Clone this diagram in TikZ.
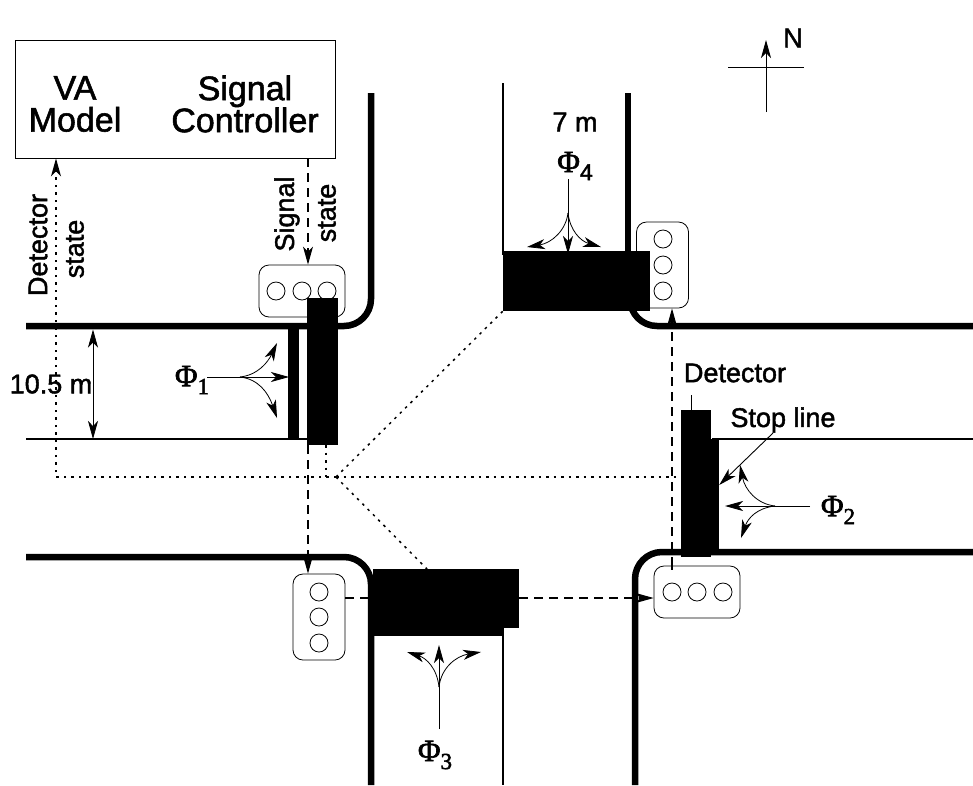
\documentclass[tikz,border=0pt]{standalone}
\usepackage{fontspec}
\setmainfont[FakeBold=1.6]{Liberation Sans}
\newfontfamily\phifont[FakeBold=2.2]{Liberation Serif}
\usetikzlibrary{arrows.meta}
\newcommand{\phasename}[1]{{\phifont\fontsize{31}{31}\selectfont Φ}\raisebox{-8pt}{\phifont\fontsize{23}{23}\selectfont #1}}
\begin{document}
\begin{tikzpicture}[x=1pt,y=-1pt]
	\tikzset{road/.style={line width=6.5pt,rounded corners=27pt}}
	\tikzset{kerb/.style={line width=1.1pt}}
	\tikzset{label/.style={inner sep=0pt,align=center,font=\fontsize{27}{30}\selectfont}}
	\tikzset{biglabel/.style={inner sep=0pt,align=center,font=\fontsize{34}{32}\selectfont}}
	\tikzset{lamphouse/.style={draw,line width=0.8pt,rounded corners=10pt,inner sep=0pt}}
	\tikzset{lamp/.style={draw,line width=0.8pt,circle,minimum size=18pt,inner sep=0pt}}
	\tikzset{blackbar/.style={fill=black,inner sep=0pt}}
	\tikzset{tip/.style={-{Stealth[length=18pt,width=10pt,inset=5pt]}}}
	\tikzset{turn/.style={line width=0.8pt,tip}}
	\tikzset{signalwire/.style={line width=1.1pt,dash pattern=on 9pt off 6pt}}
	\tikzset{detectorwire/.style={line width=1.5pt,dash pattern=on 2.5pt off 5pt}}
	\useasboundingbox (0,0) rectangle (973,785);

	\node[draw,line width=0.8pt,minimum width=320pt,minimum height=118pt,inner sep=0pt] (ctrl) at (175,99) {};
	\node[biglabel] (vamodel) at (75,104) {VA\\Model};
	\node[biglabel] (sigctrl) at (245,104) {Signal\\Controller};

	\draw[road] (26,326) -- (371,326) -- (371,93);
	\draw[road] (26,557) -- (371,557) -- (371,785);
	\draw[road] (630,300) -- (630,326) -- (973,326);
	\draw[road] (635,785) -- (635,552) -- (973,552);
	\draw[line width=6.5pt] (628,93) -- (628,255);
	\draw[kerb] (26,439) -- (310,439);
	\draw[kerb] (712,439) -- (973,439);
	\draw[kerb] (503,83) -- (503,255);
	\draw[kerb] (503,630) -- (503,785);

	\node[lamphouse,minimum width=86pt,minimum height=52pt] (sigW) at (302,291) {};
	\node[lamp] (w1) at (276,291) {};
	\node[lamp] (w2) at (302,291) {};
	\node[lamp] (w3) at (327,291) {};
	\node[lamphouse,minimum width=52pt,minimum height=86pt] (sigN) at (662.5,265) {};
	\node[lamp] (n1) at (663,239) {};
	\node[lamp] (n2) at (663,265) {};
	\node[lamp] (n3) at (663,291) {};
	\node[lamphouse,minimum width=52pt,minimum height=86pt] (sigS) at (319,617) {};
	\node[lamp] (s1) at (319,592) {};
	\node[lamp] (s2) at (319,617) {};
	\node[lamp] (s3) at (319,643) {};
	\node[lamphouse,minimum width=86pt,minimum height=52pt] (sigE) at (697,592) {};
	\node[lamp] (e1) at (672,592) {};
	\node[lamp] (e2) at (697,592) {};
	\node[lamp] (e3) at (723,592) {};

	\coordinate (hub) at (336,477);
	\coordinate (wirew) at (308,0);
	\coordinate (wiree) at (672,0);
	\coordinate (wires) at (0,598);
	\coordinate (statew) at (56,0);
	\coordinate (tapw) at (326,0);

	\node[blackbar,minimum width=11pt,minimum height=113pt] (stopW) at (293.5,382.5) {};
	\node[blackbar,minimum width=31pt,minimum height=147pt] (detW) at (322.5,371.5) {};
	\node[blackbar,minimum width=147pt,minimum height=60pt] (detN) at (576.5,281) {};
	\node[blackbar,minimum width=8pt,minimum height=113pt] (stopE) at (715,495.5) {};
	\node[blackbar,minimum width=30pt,minimum height=147pt] (detE) at (696,483.5) {};
	\node[blackbar,minimum width=136pt,minimum height=16pt] (stopS) at (436,628) {};
	\node[blackbar,minimum width=146pt,minimum height=59pt] (detS) at (446,598.5) {};

	\draw[detectorwire,tip] (hub) -- (statew |- hub) -- (statew |- ctrl.south);
	\draw[detectorwire] (hub) -- (detE.west |- hub);
	\draw[detectorwire] (detW.south -| tapw) -- (tapw |- hub);
	\draw[detectorwire] (hub) -- (detN.south west);
	\draw[detectorwire] (hub) -- (427,569);

	\draw[signalwire,tip] (ctrl.south -| wirew) -- (wirew |- sigW.north);
	\draw[signalwire,tip] (detW.south -| wirew) -- (wirew |- sigS.north);
	\draw[signalwire] (sigS.east |- wires) -- (detS.west |- wires);
	\draw[signalwire,tip] (detS.east |- wires) -- (sigE.west |- wires);
	\draw[signalwire,tip] (wiree |- sigE.north) -- (wiree |- sigN.south);
	\draw[signalwire,shorten <=-4pt] (wiree |- sigE.north) -- (wiree |- detE.south);

	\coordinate (dimtop) at (93,329.5);
	\coordinate (dimbot) at (93,439);
	\draw[line width=0.8pt,{Stealth[length=18pt,width=10pt,inset=5pt]}-{Stealth[length=18pt,width=10pt,inset=5pt]}] (dimtop) -- (dimbot);
	\node[label,fill=none] (widthW) at (51,384) {10.5 m};
	\node[label] (widthN) at (575,122) {7 m};

	\node[label,rotate=90] (detstate) at (38,245) {Detector};
	\node[label,rotate=90] (detstate2) at (75,249) {state};
	\node[label,rotate=90] (sigstate) at (287,214) {Signal};
	\node[label,rotate=90] (sigstate2) at (327,213) {state};

	\node[label] (phi1) at (192,380) {\phasename{1}};
	\draw[turn] (207,377) coordinate (p1) -- (289,377);
	\draw[turn] (240,377) .. controls (258,375) and (268,362) .. (277,343);
	\draw[turn] (240,377) .. controls (258,379) and (268,392) .. (277,418);

	\node[label] (phi2) at (838,510) {\phasename{2}};
	\draw[turn] (810,506) -- (725,506);
	\draw[turn] (775,506) .. controls (757,504) and (745,490) .. (740,465);
	\draw[turn] (775,506) .. controls (757,508) and (748,518) .. (741,538);

	\node[label] (phi3) at (435,755) {\phasename{3}};
	\draw[turn] (439,729) -- (439,645);
	\draw[turn] (439,687) .. controls (437,668) and (426,658) .. (407,652);
	\draw[turn] (439,687) .. controls (441,668) and (456,656) .. (481,652);

	\node[label] (phi4) at (575,166) {{\phifont\fontsize{31}{31}\selectfont Φ}\raisebox{-8pt}{\fontsize{23}{23}\selectfont 4}};
	\draw[turn] (568,179) -- (568,254);
	\draw[turn] (568,213) .. controls (566,230) and (552,243) .. (527,247);
	\draw[turn] (568,213) .. controls (570,230) and (580,241) .. (601,247);

	\node[label] (detlabel) at (735,373) {Detector};
	\node[label] (stoplabel) at (783,420) {Stop line};
	\draw[line width=0.8pt] (detE.north -| 691,0) -- (691,395);
	\draw[line width=0.9pt,tip] (773,433) -- (stopE.east |- 0,485);

	\coordinate (compassw) at (728,67);
	\coordinate (compasse) at (804,67);
	\coordinate (compasss) at (766,112);
	\coordinate (compassn) at (766,40);
	\draw[line width=0.8pt] (compassw) -- (compasse);
	\draw[turn] (compasss) -- (compassn);
	\node[label] (north) at (793,38) {N};
\end{tikzpicture}
\end{document}
